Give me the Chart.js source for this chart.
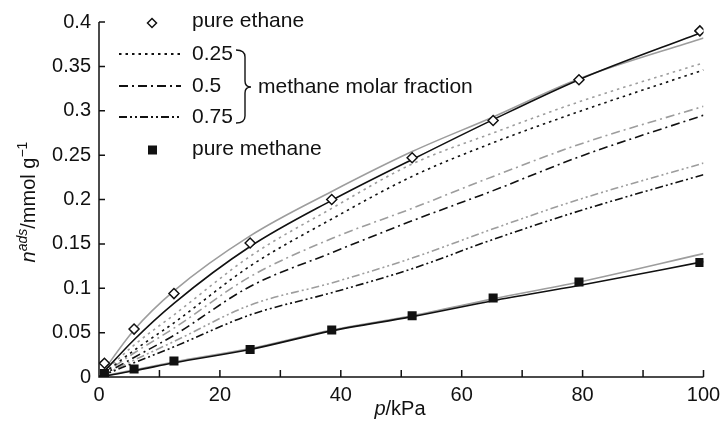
<!DOCTYPE html>
<html>
<head>
<meta charset="utf-8">
<script src="https://cdn.jsdelivr.net/npm/chart.js@4.4.0/dist/chart.umd.min.js"></script>
<style>
html, body { margin: 0; padding: 0; background: #fff; }
#wrap { width: 721px; height: 435px; }
</style>
</head>
<body>
<div id="wrap"><canvas id="chart1" width="721" height="435"></canvas></div>
<script>
// pressure points, kPa
const pExp = [0.9, 5.8, 12.4, 25, 38.5, 51.8, 65.2, 79.4, 99.4];
const pModel = [0, 5.8, 12.4, 25, 38.5, 51.8, 65.2, 79.4, 100];

// measured adsorbed amounts, mmol/g
const ethaneExp = [0.0155, 0.054, 0.094, 0.151, 0.200, 0.247, 0.289, 0.335, 0.390];
const methaneExp = [0.004, 0.009, 0.018, 0.031, 0.053, 0.069, 0.089, 0.107, 0.129];

// model curves: black = first model, gray = second model
const ethaneBlack = [0, 0.042, 0.083, 0.147, 0.199, 0.245, 0.290, 0.335, 0.389];
const ethaneGray = [0, 0.053, 0.097, 0.159, 0.209, 0.254, 0.293, 0.336, 0.382];
const x25Black = [0, 0.030, 0.061, 0.125, 0.178, 0.226, 0.264, 0.299, 0.346];
const x25Gray = [0, 0.036, 0.070, 0.136, 0.190, 0.240, 0.275, 0.310, 0.354];
const x50Black = [0, 0.022, 0.047, 0.102, 0.140, 0.176, 0.210, 0.248, 0.295];
const x50Gray = [0, 0.027, 0.055, 0.113, 0.156, 0.190, 0.226, 0.262, 0.305];
const x75Black = [0, 0.016, 0.034, 0.070, 0.095, 0.122, 0.155, 0.187, 0.228];
const x75Gray = [0, 0.019, 0.040, 0.081, 0.106, 0.134, 0.167, 0.200, 0.241];
const methaneBlack = [0, 0.007, 0.016, 0.031, 0.052, 0.068, 0.086, 0.103, 0.130];
const methaneGray = [0, 0.008, 0.017, 0.032, 0.053, 0.069, 0.088, 0.107, 0.139];

const BLACK = '#111111';
const GRAY = '#9d9d9d';
const FONT = "'Liberation Sans', Arial, sans-serif";

const dotted = [2.5, 4];
const dashDot = [9, 4, 2, 4];
const dashDotDot = [8, 3, 2, 3, 2, 3];

function pts(xs, ys) {
  return xs.map((x, i) => ({ x: x, y: ys[i] }));
}

function curve(ys, color, dash) {
  return {
    type: 'line',
    data: pts(pModel, ys),
    borderColor: color,
    borderWidth: 1.6,
    borderDash: dash,
    pointRadius: 0,
    fill: false,
    cubicInterpolationMode: 'monotone'
  };
}

// axis lines, inward tick marks, titles and the legend block
const axesPlugin = {
  id: 'axesPlugin',
  beforeDatasetsDraw(chart) {
    const ctx = chart.ctx;
    const a = chart.chartArea;
    const xs = chart.scales.x, ys = chart.scales.y;
    ctx.save();
    ctx.strokeStyle = BLACK;
    ctx.lineWidth = 1.5;
    ctx.beginPath();
    ctx.moveTo(a.left, a.top);
    ctx.lineTo(a.left, a.bottom);
    ctx.lineTo(a.right, a.bottom);
    xs.ticks.forEach(t => {
      const px = xs.getPixelForValue(t.value);
      ctx.moveTo(px, a.bottom);
      ctx.lineTo(px, a.bottom - 7);
    });
    ys.ticks.forEach(t => {
      const py = ys.getPixelForValue(t.value);
      ctx.moveTo(a.left, py);
      ctx.lineTo(a.left + 6, py);
    });
    ctx.stroke();
    ctx.restore();
  },
  afterDraw(chart) {
    const ctx = chart.ctx;
    ctx.save();
    ctx.fillStyle = BLACK;
    ctx.textBaseline = 'alphabetic';

    // x axis title: p/kPa
    ctx.font = 'italic 20px ' + FONT;
    const wp = ctx.measureText('p').width;
    ctx.font = '20px ' + FONT;
    const wk = ctx.measureText('/kPa').width;
    let x0 = 400 - (wp + wk) / 2;
    ctx.font = 'italic 20px ' + FONT;
    ctx.fillText('p', x0, 415);
    ctx.font = '20px ' + FONT;
    ctx.fillText('/kPa', x0 + wp, 415);

    // y axis title: n^ads/mmol g^-1
    const parts = [
      { t: 'n', f: 'italic 20px ', dy: 0 },
      { t: 'ads', f: 'italic 14px ', dy: -8 },
      { t: '/mmol g', f: '20px ', dy: 0 },
      { t: '\u22121', f: '14px ', dy: -8 }
    ];
    let total = 0;
    parts.forEach(p => { ctx.font = p.f + FONT; p.w = ctx.measureText(p.t).width; total += p.w; });
    ctx.translate(28, 202);
    ctx.rotate(-Math.PI / 2);
    let cx = -total / 2;
    parts.forEach(p => {
      ctx.font = p.f + FONT;
      ctx.fillText(p.t, cx, 7 + p.dy);
      cx += p.w;
    });
    ctx.restore();

    // legend
    ctx.save();
    ctx.fillStyle = BLACK;
    ctx.strokeStyle = BLACK;
    ctx.font = '21px ' + FONT;
    ctx.textBaseline = 'alphabetic';
    ctx.fillText('pure ethane', 192, 27);
    ctx.fillText('0.25', 192, 60);
    ctx.fillText('0.5', 192, 92);
    ctx.fillText('0.75', 192, 123);
    ctx.fillText('pure methane', 192, 155);
    ctx.fillText('methane molar fraction', 258, 93);

    // diamond and square markers
    ctx.lineWidth = 1.5;
    ctx.beginPath();
    ctx.moveTo(152, 18.5); ctx.lineTo(156.5, 23); ctx.lineTo(152, 27.5); ctx.lineTo(147.5, 23); ctx.closePath();
    ctx.fillStyle = '#fff';
    ctx.fill();
    ctx.stroke();
    ctx.fillStyle = BLACK;
    ctx.fillRect(148, 145.5, 9, 9);

    // line samples
    ctx.lineWidth = 1.8;
    [[dotted, 54], [dashDot, 86], [dashDotDot, 117]].forEach(s => {
      ctx.setLineDash(s[0]);
      ctx.beginPath();
      ctx.moveTo(119, s[1]);
      ctx.lineTo(181, s[1]);
      ctx.stroke();
    });
    ctx.setLineDash([]);

    // brace grouping the mixtures
    ctx.lineWidth = 1.4;
    ctx.beginPath();
    ctx.moveTo(236, 50);
    ctx.quadraticCurveTo(245, 50, 245, 57);
    ctx.lineTo(245, 81);
    ctx.quadraticCurveTo(245, 87, 251, 87);
    ctx.quadraticCurveTo(245, 87, 245, 93);
    ctx.lineTo(245, 116);
    ctx.quadraticCurveTo(245, 123, 236, 123);
    ctx.stroke();
    ctx.restore();
  }
};

const ctx = document.getElementById('chart1').getContext('2d');
const myChart = new Chart(ctx, {
  type: 'line',
  data: {
    datasets: [
      {
        type: 'scatter',
        data: pts(pExp, ethaneExp),
        pointStyle: 'rectRot',
        pointRadius: 5,
        pointBorderWidth: 1.5,
        pointBackgroundColor: '#fff',
        pointBorderColor: BLACK,
        showLine: false
      },
      {
        type: 'scatter',
        data: pts(pExp, methaneExp),
        pointStyle: 'rect',
        pointRadius: 6.4,
        pointBorderWidth: 0,
        pointBackgroundColor: BLACK,
        pointBorderColor: BLACK,
        showLine: false
      },
      curve(ethaneBlack, BLACK, []),
      curve(x25Black, BLACK, dotted),
      curve(x50Black, BLACK, dashDot),
      curve(x75Black, BLACK, dashDotDot),
      curve(methaneBlack, BLACK, []),
      curve(ethaneGray, GRAY, []),
      curve(x25Gray, GRAY, dotted),
      curve(x50Gray, GRAY, dashDot),
      curve(x75Gray, GRAY, dashDotDot),
      curve(methaneGray, GRAY, [])
    ]
  },
  options: {
    responsive: false,
    animation: false,
    layout: { padding: { top: 22, right: 17.5, left: 0, bottom: 0 } },
    plugins: {
      legend: { display: false },
      tooltip: { enabled: false }
    },
    scales: {
      x: {
        type: 'linear',
        min: 0,
        max: 100,
        afterFit: s => { s.height = 58; s.paddingLeft = 0; s.paddingRight = 0; },
        grid: { display: false, drawTicks: false },
        border: { display: false },
        ticks: {
          stepSize: 10,
          padding: 6,
          color: BLACK,
          font: { family: FONT, size: 20 },
          maxRotation: 0,
          autoSkip: false,
          callback: v => (v % 20 === 0 ? v : '')
        }
      },
      y: {
        min: 0,
        max: 0.4,
        afterFit: s => { s.width = 99; s.paddingTop = 0; s.paddingBottom = 0; },
        grid: { display: false, drawTicks: false },
        border: { display: false },
        ticks: {
          stepSize: 0.05,
          padding: 8,
          color: BLACK,
          font: { family: FONT, size: 20 },
          callback: v => String(Number(v.toFixed(2)))
        }
      }
    }
  },
  plugins: [axesPlugin]
});
</script>
</body>
</html>
